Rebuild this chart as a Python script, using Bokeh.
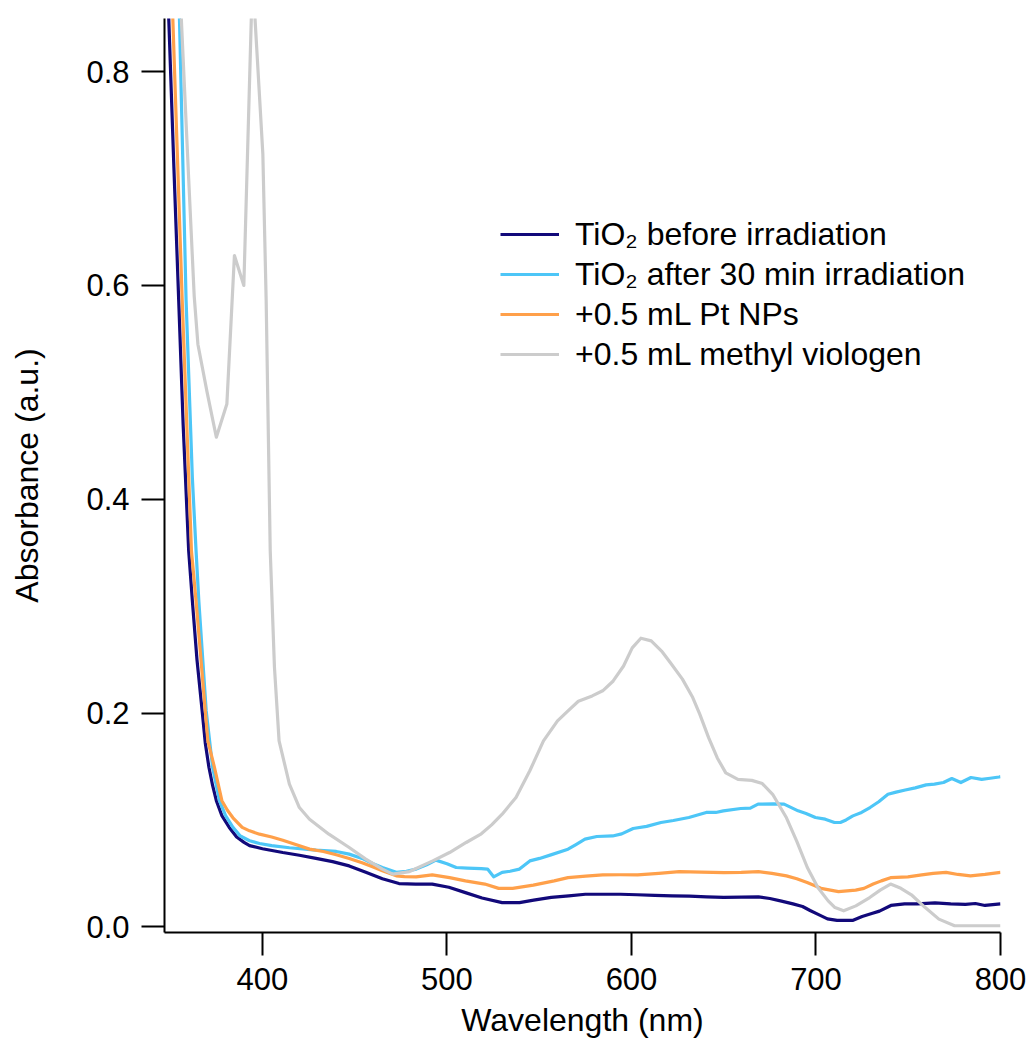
from bokeh.plotting import figure
from bokeh.models import Range1d, FixedTicker, NumeralTickFormatter, Legend, LegendItem
from bokeh.embed import file_html
from bokeh.resources import INLINE

# ---------------- data ----------------
navy_x = [348, 349.2, 352, 354.6, 357, 360, 362, 364.5, 367.3, 369, 371, 373, 375, 378, 382, 386, 390, 393,
          400, 411, 420, 429, 438, 447, 456, 465, 474, 483, 492, 501, 510, 519, 529.9, 539.3, 547, 556.5, 566,
          575, 584.6, 594, 603, 612.6, 622, 631.4, 640.7, 650, 659.5, 668.8, 675, 681.3, 687.5, 692.7, 696.8,
          702, 706.2, 711.4, 719.8, 725, 730.2, 734.4, 740.6, 748, 755, 764.5, 773, 781, 786.4, 791.6, 800]
navy_y = [0.90, 0.85, 0.71, 0.586, 0.47, 0.352, 0.305, 0.25, 0.202, 0.172, 0.149, 0.132, 0.118, 0.104, 0.093,
          0.084, 0.079, 0.076, 0.073, 0.0695, 0.067, 0.064, 0.061, 0.057, 0.051, 0.045, 0.0405, 0.040, 0.040,
          0.037, 0.032, 0.027, 0.0227, 0.0227, 0.025, 0.0275, 0.029, 0.0305, 0.0305, 0.0305, 0.030, 0.0295,
          0.029, 0.0288, 0.028, 0.0275, 0.0278, 0.028, 0.0265, 0.024, 0.0215, 0.019, 0.0153, 0.011, 0.0075,
          0.006, 0.006, 0.0097, 0.0125, 0.0147, 0.020, 0.0215, 0.0215, 0.0225, 0.0215, 0.021, 0.0218, 0.020,
          0.0215]

sky_x = [353, 355, 358.6, 362, 364, 365.5, 369.5, 373, 376.7, 380, 384, 388, 393, 398.4, 405, 414.6, 429, 440,
         447, 454, 460, 465, 472.5, 478, 483.3, 489, 494, 500, 505, 511, 518.6, 522, 525.3, 529.9, 534.2, 539.3,
         544.9, 550.2, 556.3, 565.6, 569.9, 574.8, 581.2, 589.8, 594.7, 600.9, 608.2, 616, 622.7, 631.1, 640.5,
         645.7, 649.8, 659.2, 664.4, 668.6, 676.9, 682.7, 690.3, 694.6, 699.7, 705, 710, 713.2, 716.3, 720,
         724.7, 729.3, 734, 739, 743.4, 748.4, 753.8, 759.7, 764.2, 769.1, 773.6, 778.5, 784, 789.8, 794.4,
         799.2, 800]
sky_y = [0.95, 0.85, 0.586, 0.42, 0.352, 0.305, 0.202, 0.149, 0.118, 0.104, 0.093, 0.085, 0.0805, 0.078, 0.076,
         0.074, 0.0717, 0.0705, 0.068, 0.064, 0.059, 0.0555, 0.051, 0.052, 0.054, 0.058, 0.0624, 0.059, 0.0555,
         0.055, 0.0545, 0.054, 0.0468, 0.051, 0.052, 0.054, 0.0617, 0.064, 0.0673, 0.0726, 0.077, 0.082,
         0.0845, 0.085, 0.087, 0.092, 0.094, 0.0976, 0.0995, 0.1023, 0.107, 0.107, 0.1085, 0.1107, 0.111,
         0.1148, 0.115, 0.1148, 0.1085, 0.106, 0.1023, 0.1007, 0.0976, 0.0976, 0.100, 0.1038, 0.107, 0.1116,
         0.117, 0.124, 0.126, 0.128, 0.130, 0.1328, 0.1335, 0.135, 0.1387, 0.135, 0.1397, 0.138, 0.139,
         0.1402, 0.1405]

orange_x = [350, 351.4, 356.5, 361.5, 364, 369, 370.4, 374, 378, 381, 384, 389, 393, 398.4, 405, 411, 418,
            425.5, 433, 440, 447, 454, 460, 465, 472.5, 477, 483.3, 492, 501.4, 510, 520.5, 528, 535.6, 546.8,
            558.1, 565.6, 575.2, 584.4, 593.9, 603.3, 614.8, 625.9, 637.8, 650.1, 659.5, 668.8, 676.1, 684,
            689.6, 695.2, 702.7, 712.2, 721.5, 726, 731, 735.4, 740.4, 749.8, 757.3, 763.5, 770.5, 777, 783.7,
            791.6, 800]
orange_y = [0.93, 0.85, 0.586, 0.352, 0.305, 0.202, 0.174, 0.149, 0.118, 0.109, 0.102, 0.093, 0.0898, 0.0867,
            0.084, 0.081, 0.077, 0.0727, 0.0705, 0.0674, 0.064, 0.060, 0.056, 0.0524, 0.0477, 0.047, 0.0468,
            0.0486, 0.046, 0.043, 0.040, 0.036, 0.036, 0.039, 0.043, 0.046, 0.0475, 0.0486, 0.0487, 0.0486,
            0.050, 0.0517, 0.0512, 0.0508, 0.051, 0.0517, 0.050, 0.0477, 0.045, 0.0414, 0.036, 0.033, 0.0343,
            0.036, 0.040, 0.043, 0.046, 0.0468, 0.0486, 0.050, 0.051, 0.049, 0.0477, 0.049, 0.051]

gray_x = [354, 356, 360, 363, 365, 370, 375, 380.7, 384.8, 389.9, 394.6, 400.2, 402, 404.2, 406.5, 409, 414.6,
          420, 425.5, 436, 447, 456, 465, 470.6, 479.7, 492.3, 501.4, 510.4, 518.6, 524.2, 529.9, 537.4, 544.9,
          552.3, 559.9, 565.6, 571.2, 578.7, 584.4, 590.1, 595.7, 600.4, 605.1, 610.7, 616.3, 621.1, 627.6,
          633.2, 637, 641.8, 646.5, 651.1, 657.7, 665.2, 670.9, 676.5, 684, 689.6, 695.3, 701, 706.6, 710.3,
          715, 721.6, 729.1, 734.8, 740.4, 746, 751.7, 759.2, 766.6, 775.1, 788, 800]
gray_y = [0.95, 0.85, 0.70, 0.59, 0.545, 0.50, 0.458, 0.489, 0.628, 0.600, 0.89, 0.723, 0.586, 0.352, 0.2426,
          0.174, 0.1335, 0.1116, 0.1007, 0.0867, 0.0742, 0.0633, 0.054, 0.0493, 0.0517, 0.0617, 0.0695, 0.0789,
          0.087, 0.0954, 0.1054, 0.121, 0.146, 0.174, 0.1927, 0.202, 0.211, 0.216, 0.2208, 0.230, 0.244, 0.261,
          0.270, 0.2675, 0.258, 0.247, 0.2317, 0.2145, 0.199, 0.177, 0.158, 0.144, 0.138, 0.137, 0.134, 0.124,
          0.102, 0.080, 0.0555, 0.0368, 0.0243, 0.018, 0.015, 0.0196, 0.0274, 0.0343, 0.040, 0.036, 0.030,
          0.018, 0.0072, 0.001, 0.001, 0.001]

series_labels = ["TiO\u2082 before irradiation", "TiO\u2082 after 30 min irradiation",
                 "+0.5 mL Pt NPs", "+0.5 mL methyl viologen"]
x_ticks = [400, 500, 600, 700, 800]
y_ticks = [0.0, 0.2, 0.4, 0.6, 0.8]

# ---------------- figure ----------------
FONT = "Liberation Sans"
p = figure(frame_width=836, frame_height=914, output_backend="svg", toolbar_location=None,
           x_range=Range1d(346.9, 800), y_range=Range1d(-0.0053, 0.8497),
           min_border_left=164, min_border_right=27, min_border_top=18, min_border_bottom=117)
p.outline_line_color = None
p.xgrid.visible = False
p.ygrid.visible = False
p.background_fill_color = "white"
p.border_fill_color = "white"

colors = ["#12097A", "#4DC6F7", "#FFA04A", "#CCCCCC"]
xs = [navy_x, sky_x, orange_x, gray_x]
ys = [navy_y, sky_y, orange_y, gray_y]
renderers = []
for x, y, c in zip(xs, ys, colors):
    renderers.append(p.line(x, y, line_color=c, line_width=3.2, line_join="round"))

for ax in (p.xaxis[0], p.yaxis[0]):
    ax.axis_line_width = 2
    ax.axis_line_color = "black"
    ax.major_tick_line_width = 2
    ax.major_tick_line_color = "black"
    ax.major_tick_out = 23
    ax.major_tick_in = 0
    ax.minor_tick_out = 0
    ax.minor_tick_in = 0
    ax.major_label_text_font = FONT
    ax.major_label_text_font_size = "31px"
    ax.major_label_text_color = "black"
    ax.axis_label_text_font = FONT
    ax.axis_label_text_font_size = "32px"
    ax.axis_label_text_font_style = "normal"
    ax.axis_label_text_color = "black"

p.xaxis.ticker = FixedTicker(ticks=x_ticks)
p.yaxis.ticker = FixedTicker(ticks=y_ticks)
p.yaxis.formatter = NumeralTickFormatter(format="0.0")
p.xaxis.axis_label = "Wavelength (nm)"
p.yaxis.axis_label = "Absorbance (a.u.)"
p.xaxis.major_label_standoff = 12
p.yaxis.major_label_standoff = 12
p.xaxis.axis_label_standoff = 9
p.yaxis.axis_label_standoff = 38

legend = Legend(items=[LegendItem(label=l, renderers=[r]) for l, r in zip(series_labels, renderers)],
                location=(336, 558))
legend.border_line_color = None
legend.background_fill_alpha = 0
legend.label_text_font = FONT
legend.label_text_font_size = "32px"
legend.label_text_color = "black"
legend.glyph_width = 59
legend.glyph_height = 40
legend.label_height = 40
legend.spacing = 0
legend.padding = 0
legend.margin = 0
legend.label_standoff = 16
p.add_layout(legend)

open("out.html", "w").write(file_html(p, INLINE))
